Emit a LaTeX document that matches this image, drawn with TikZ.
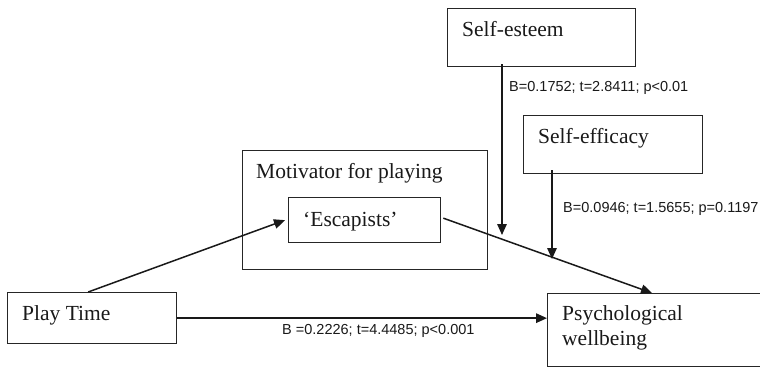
\documentclass[tikz,border=0pt]{standalone}
\usepackage{fontspec}
\setmainfont{Liberation Serif}
\newfontfamily\labfont{Liberation Sans}
\usetikzlibrary{arrows.meta,calc}
\begin{document}
\begin{tikzpicture}[x=1pt,y=-1pt,
  boxstyle/.style={draw=black!85,line width=1.3pt,rectangle,inner sep=0pt,anchor=north west},
  boxtext/.style={anchor=base west,inner sep=0pt,font=\fontsize{21.5}{25}\selectfont,text=black!90},
  stat/.style={anchor=base west,inner sep=0pt,font=\labfont\fontsize{14.5}{17}\selectfont,text=black!90},
  conn/.style={draw=black!90,line width=1.5pt,-{Triangle[length=11pt,width=9.5pt]}}]
\useasboundingbox (0,0) rectangle (760,367);
\begin{scope}
\clip (0,0) rectangle (760,367);
% boxes
\node[boxstyle,minimum width=188pt,minimum height=58pt] (se) at (447,8) {};
\node[boxstyle,minimum width=179pt,minimum height=58pt] (sf) at (523,115) {};
\node[boxstyle,minimum width=245pt,minimum height=119pt] (mot) at (242,150) {};
\node[boxstyle,minimum width=152pt,minimum height=45pt] (esc) at (288,197) {};
\node[boxstyle,minimum width=169pt,minimum height=51pt] (pt) at (7,292) {};
\node[boxstyle,minimum width=230pt,minimum height=73pt] (psy) at (547,293) {};
\end{scope}
% texts
\node[boxtext] (tse) at (462,36) {Self-esteem};
\node[boxtext] (tsf) at (538,143) {Self-efficacy};
\node[boxtext] (tmot) at (256,178) {Motivator for playing};
\node[boxtext] (tesc) at (303,226) {‘Escapists’};
\node[boxtext] (tpt) at (22,320) {Play Time};
\node[boxtext] (tpsy1) at (562,320) {Psychological};
\node[boxtext] (tpsy2) at (562,345) {wellbeing};
% stats
\node[stat] (s1) at (509,91) {B=0.1752; t=2.8411; p<0.01};
\node[stat] (s2) at (563,212) {B=0.0946; t=1.5655; p=0.1197};
\node[stat] (s3) at (282,334) {B =0.2226; t=4.4485; p<0.001};
% connectors
\coordinate (seend) at (502,235);
\coordinate (sfend) at (552,259);
\draw[conn] ([xshift=-4pt]pt.north) -- ([xshift=-3pt]esc.west);
\draw[conn] ([xshift=2pt,yshift=2pt]esc.east) -- ([xshift=105pt]psy.north west);
\draw[conn] (pt.east) -- (pt.east -| psy.west);
\draw[conn] ([xshift=55pt,yshift=3pt]se.south west) -- (seend);
\draw[conn] ([xshift=29pt,yshift=4pt]sf.south west) -- (sfend);
\end{tikzpicture}
\end{document}
